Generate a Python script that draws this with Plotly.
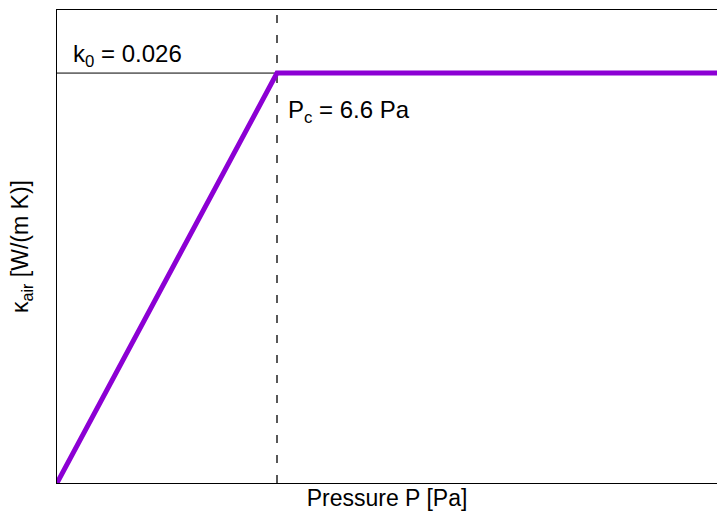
import plotly.graph_objects as go

# Thermal conductivity of air vs pressure: linear rise up to the critical pressure, then constant
pressure = [0.0, 6.6, 19.8]          # Pa
kappa = [0.0, 0.026, 0.026]          # W/(m K)
k0 = 0.026
p_c = 6.6
x_range = [0, 19.8]
y_range = [0, 0.03]

FONT = "Liberation Sans, Arial, Helvetica, sans-serif"

fig = go.Figure()

# reference level k0
fig.add_trace(go.Scatter(
    x=x_range, y=[k0, k0], mode="lines",
    line=dict(color="black", width=1), hoverinfo="skip", showlegend=False,
))

# critical pressure marker (drawn bottom-up so a dash sits on the axis)
fig.add_trace(go.Scatter(
    x=[p_c, p_c], y=y_range, mode="lines",
    line=dict(color="#222222", width=1.5, dash="8px,12px"), hoverinfo="skip", showlegend=False,
))

# conductivity curve
fig.add_trace(go.Scatter(
    x=pressure, y=kappa, mode="lines",
    line=dict(color="#8C00D4", width=5), showlegend=False,
))

fig.add_annotation(
    x=0, y=k0, xref="x", yref="y", text="k<sub>0</sub> = 0.026",
    showarrow=False, xanchor="left", yanchor="bottom", xshift=14, yshift=0,
    font=dict(family=FONT, size=24, color="black"),
)
fig.add_annotation(
    x=p_c, y=k0, xref="x", yref="y", text="P<sub>c</sub> = 6.6 Pa",
    showarrow=False, xanchor="left", yanchor="top", xshift=9, yshift=-21,
    font=dict(family=FONT, size=24, color="black"),
)

fig.update_layout(
    width=717, height=520,
    margin=dict(l=57, r=0, t=10, b=37),
    paper_bgcolor="white", plot_bgcolor="white",
    font=dict(family=FONT, size=23, color="black"),
    xaxis=dict(
        range=x_range, showgrid=False, zeroline=False, showticklabels=False, ticks="",
        showline=True, linecolor="black", linewidth=1, mirror=True,
        title=dict(text="Pressure P [Pa]", standoff=6, font=dict(size=23)),
    ),
    yaxis=dict(
        range=y_range, showgrid=False, zeroline=False, showticklabels=False, ticks="",
        showline=True, linecolor="black", linewidth=1,
        title=dict(text="κ<sub>air</sub> [W/(m K)]", standoff=20, font=dict(size=23)),
    ),
)

fig.write_html("out.html")
